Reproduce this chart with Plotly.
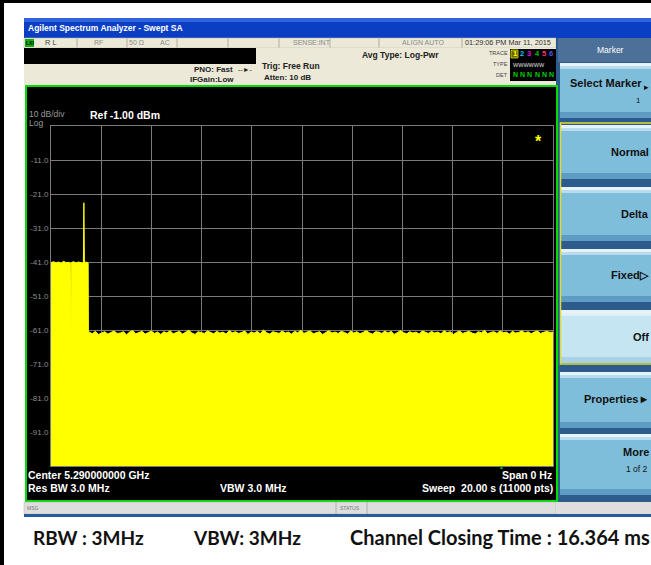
import numpy as np
import plotly.graph_objects as go

W, H = 651, 565

# ---------------- data ----------------
sweep_s = 20.0
ref_dbm = -1.0
bottom_dbm = -101.0
y_ticks = [-11, -21, -31, -41, -51, -61, -71, -81, -91]
y_tick_labels = ["-11.0", "-21.0", "-31.0", "-41.0", "-51.0", "-61.0", "-71.0", "-81.0", "-91.0"]

burst_t = [0.0, 0.1, 0.2, 0.3, 0.4, 0.5, 0.6, 0.7, 0.77, 0.79, 0.81, 0.9, 1.0, 1.1, 1.2,
           1.29, 1.31, 1.33, 1.4, 1.48, 1.49]
burst_v = [-41.2, -40.9, -41.3, -41.0, -41.4, -40.8, -41.2, -41.1, -41.3, -61.5, -41.2,
           -40.9, -41.3, -41.0, -41.2, -41.3, -23.6, -41.2, -41.0, -41.3, -61.8]

noise_v = [
    -61.6, -62.1, -61.4, -62.3, -61.8, -61.5, -62.2, -61.7, -61.3, -62.0,
    -61.9, -61.5, -62.4, -61.6, -61.2, -62.1, -61.8, -61.4, -62.2, -61.7,
    -61.3, -62.0, -61.6, -62.3, -61.5, -61.9, -61.2, -62.1, -61.7, -61.4,
    -62.2, -61.6, -61.1, -61.9, -62.3, -61.5, -61.8, -62.0, -61.3, -61.7,
    -62.1, -61.4, -61.9, -61.6, -62.2, -61.2, -61.8, -61.5, -62.0, -61.7,
    -61.3, -62.3, -61.6, -61.9, -61.4, -62.1, -61.0, -61.8, -62.2, -61.5,
    -61.7, -62.0, -61.3, -61.9, -61.6, -62.2, -61.4, -61.8, -61.1, -62.0,
    -61.6, -61.3, -62.1, -61.7, -61.5, -62.3, -61.8, -61.2, -61.9, -61.6,
    -62.0, -61.4, -61.7, -62.2, -61.3, -61.9, -61.5, -62.1, -61.7, -61.2,
    -61.8, -62.2, -61.5, -61.6, -62.0, -61.3, -61.9, -61.4, -62.3, -61.7,
    -61.2, -61.8, -62.1, -61.5, -61.9, -61.6, -62.2, -61.3, -61.7, -62.0,
    -61.4, -61.9, -61.6, -62.1, -61.2, -61.8, -61.5, -62.3, -61.7, -61.3,
    -62.0, -61.6, -61.4, -61.9, -62.2, -61.5, -61.8, -61.1, -62.1, -61.7,
    -61.5, -62.0, -61.3, -61.8, -61.6, -62.2, -61.4, -61.9, -61.7, -61.2,
    -61.9, -61.5, -62.1, -61.6, -61.3, -62.0, -61.8, -61.4, -61.7, -61.6,
]
noise_t = list(np.linspace(1.52, sweep_s, len(noise_v)))

trace_t = burst_t + noise_t
trace_v = burst_v + noise_v

# ---------------- helpers ----------------
def px(x):
    return x / W

def py(y):
    return 1 - y / H

shapes = []
annos = []

def rect(x0, y0, x1, y1, fill, line=None, lw=0):
    shapes.append(dict(type="rect", xref="paper", yref="paper",
                       x0=px(x0), x1=px(x1), y0=py(y1), y1=py(y0),
                       fillcolor=fill, layer="below",
                       line=dict(color=line if line else fill, width=lw)))

def vline(x, y0, y1, color, w=1):
    shapes.append(dict(type="line", xref="paper", yref="paper",
                       x0=px(x), x1=px(x), y0=py(y0), y1=py(y1), layer="below",
                       line=dict(color=color, width=w)))

def text(t, x, y, size, color, anchor="left", bold=False, family="Liberation Sans"):
    annos.append(dict(text=(f"<b>{t}</b>" if bold else t), x=px(x), y=py(y),
                      xref="paper", yref="paper", xanchor=anchor, yanchor="middle",
                      showarrow=False, borderpad=0,
                      font=dict(size=size, color=color, family=family)))

# ---------------- frame / window ----------------
rect(0, 0, W, 3, "#000000")
rect(0, 0, 4, H, "#000000")
# title bar
rect(24, 18, W, 38, "#0a3fc4")
rect(24, 18, W, 22, "#2f63e0")
text("Agilent Spectrum Analyzer - Swept SA", 27, 28, 8.5, "#ffffff", bold=True)
# status row
rect(24, 38, 556, 48, "#ece9d8", "#b8b4a4", 0.5)
rect(25, 39, 34, 47, "#10b010")
text("LXI", 25.5, 43, 5, "#000000", bold=True)
for sx in [77, 127, 177, 228, 279, 330, 379, 462]:
    vline(sx, 38.5, 47.5, "#b0ad9e")
text("R L", 44, 43, 7.5, "#444444")
text("RF", 93, 43, 7, "#8a8a8a")
text("50 Ω", 128, 43, 7, "#8a8a8a")
text("AC", 159, 43, 7, "#8a8a8a")
text("SENSE:INT", 292, 43, 7, "#8a8a8a")
text("ALIGN AUTO", 401, 43, 7, "#8a8a8a")
text("01:29:06 PM Mar 11, 2015", 464, 43, 7.3, "#333333")
# second row
rect(24, 48, 556, 85, "#ece9d8")
rect(24, 48, 256, 64, "#000000")
text("PNO: Fast", 193, 69, 8, "#222222", bold=True)
text("IFGain:Low", 189, 79, 8, "#222222", bold=True)
text("-‑►‑", 237, 69, 7, "#222222")
text("Trig: Free Run", 261, 66, 8.5, "#222222", bold=True)
text("Atten: 10 dB", 263, 78, 8, "#222222", bold=True)
text("Avg Type: Log-Pwr", 361, 55, 8.5, "#222222", bold=True)
text("TRACE", 509, 53, 5.5, "#444444", anchor="right")
text("TYPE", 509, 64, 5.5, "#444444", anchor="right")
text("DET", 509, 75, 5.5, "#444444", anchor="right")
rect(510, 49, 556, 81, "#000000")
rect(511, 50, 518, 58, "#6a6a00", "#e0e000", 0.8)
for i, (num, col) in enumerate(zip("123456", ["#ffff00", "#00c8ff", "#e000e0", "#00c000", "#ff3070", "#5050ff"])):
    text(num, 512 + i * 7.2, 54, 7.5, col, bold=True)
text("WWWWWW", 511.5, 65, 5.5, "#e0e0e0")
for i in range(6):
    text("N", 512 + i * 7.2, 75, 7, "#00d000", bold=True)

# ---------------- right softkey panel ----------------
rect(556, 38, W, 515, "#2d5c8c")
rect(558, 38, W, 62, "#4d7099")
text("Marker", 610, 50, 8.5, "#ffffff", anchor="center")

def button(y0, y1, face="#7ebedb"):
    light = face == "#c6e5f2"
    rect(560, y0, W, y1, face)
    rect(560, y0, W, y0 + 3, "#e6f4fa")
    rect(560, y0 + 3, W, y0 + 6, "#dff0f8" if light else "#b8dced")
    rect(560, y1 - 6, W, y1, "#a9d2e6" if light else "#5f9cc3")

button(63, 118)
text("Select Marker", 643, 83, 11, "#111111", anchor="right", bold=True)
text("▸", 643, 87, 9, "#111111")
text("1", 642, 100, 8, "#111111", anchor="right")
button(125, 179)
text("Normal", 650, 152, 11, "#111111", anchor="right", bold=True)
button(187, 241)
text("Delta", 650, 214, 11, "#111111", anchor="right", bold=True)
button(249, 302)
text("Fixed▷", 650, 275, 11, "#111111", anchor="right", bold=True)
button(310, 363, "#c6e5f2")
text("Off", 650, 337, 11, "#111111", anchor="right", bold=True)
shapes.append(dict(type="rect", xref="paper", yref="paper", x0=px(560.5), x1=px(W + 2),
                   y0=py(364), y1=py(123), layer="below",
                   line=dict(color="#e0dc30", width=1.5)))
button(372, 428)
text("Properties►", 650, 399, 11, "#111111", anchor="right", bold=True)
button(434, 495)
text("More", 650, 452, 11, "#111111", anchor="right", bold=True)
text("1 of 2", 649, 469, 8.5, "#111111", anchor="right")

# ---------------- plot panel ----------------
rect(26, 86, 557, 501, "#000000", "#00dd00", 2)
text("10 dB/div", 28, 114, 8.5, "#9a9a9a")
text("Log", 28, 123, 8.5, "#9a9a9a")
text("Ref -1.00 dBm", 89, 115, 10.5, "#ffffff", bold=True)
text("*", 538, 141, 16, "#ffff00", anchor="center", bold=True)
text("▲", 501, 467, 5, "#00c000", anchor="center")
text("Center 5.290000000 GHz", 27, 475, 10.5, "#ffffff", bold=True)
text("Res BW 3.0 MHz", 27, 488, 10.5, "#ffffff", bold=True)
text("VBW 3.0 MHz", 219, 488, 10.5, "#ffffff", bold=True)
text("Span 0 Hz", 553, 475, 10.5, "#ffffff", anchor="right", bold=True)
text("Sweep  20.00 s (11000 pts)", 554, 488, 10.5, "#ffffff", anchor="right", bold=True)

# status bar
rect(24, 502, 556, 514, "#dedede", "#b0b0b0", 0.5)
rect(556, 502, W, 514, "#dedede")
vline(336, 502, 514, "#b0b0b0")
vline(367, 502, 514, "#b0b0b0")
text("MSG", 26, 508, 5, "#777777")
text("STATUS", 339, 508, 5, "#777777")
rect(24, 514, W, 517, "#2a5a9a")

# caption
text("RBW : 3MHz", 32, 537, 19, "#111111", bold=True, family="Lato")
text("VBW: 3MHz", 192, 537, 19, "#111111", bold=True, family="Lato")
text("Channel Closing Time : 16.364 ms", 349, 537, 20, "#111111", bold=True, family="Lato")

# ---------------- traces ----------------
fig = go.Figure()
fig.add_trace(go.Scatter(x=[0, sweep_s], y=[bottom_dbm, bottom_dbm], mode="lines",
                         line=dict(width=0, color="#ffff00"), showlegend=False, hoverinfo="skip"))
fig.add_trace(go.Scatter(x=trace_t, y=trace_v, mode="lines", fill="tonexty",
                         fillcolor="#ffff00", line=dict(color="#ffff00", width=1),
                         showlegend=False))

fig.update_layout(
    width=W, height=H, autosize=False,
    margin=dict(l=0, r=0, t=0, b=0),
    paper_bgcolor="#ffffff", plot_bgcolor="#000000",
    shapes=shapes, annotations=annos, showlegend=False,
    xaxis=dict(domain=[px(51), px(553)], range=[0, sweep_s], dtick=2, tick0=0,
               showticklabels=False, ticks="", showgrid=True, gridcolor="#7a7a7a",
               gridwidth=1, zeroline=False, showline=True, linecolor="#7a7a7a",
               linewidth=1, mirror=True),
    yaxis=dict(domain=[py(466), py(126)], range=[bottom_dbm, ref_dbm],
               tickvals=y_ticks, ticktext=y_tick_labels, ticks="",
               tickfont=dict(size=8, color="#8c8c8c", family="Liberation Sans"),
               showgrid=True, gridcolor="#7a7a7a", gridwidth=1, zeroline=False,
               showline=True, linecolor="#7a7a7a", linewidth=1, mirror=True),
)

fig.write_html("out.html", config={"displayModeBar": False},
               post_script="document.body.style.margin='0';document.body.style.overflow='hidden';")
